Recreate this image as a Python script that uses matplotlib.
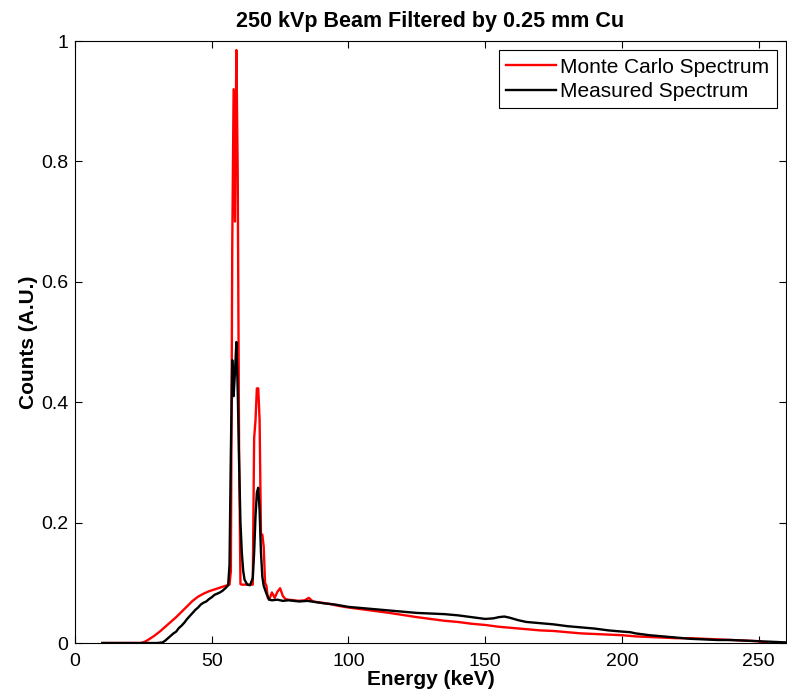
import matplotlib
matplotlib.use('Agg')
import matplotlib.pyplot as plt

plt.rcParams['font.family'] = ['Liberation Sans', 'DejaVu Sans']

# Monte Carlo spectrum (keV, counts A.U.)
mc_energy = [10, 15, 20, 24, 25.5, 27, 29, 31, 33, 35, 37, 39, 41, 43, 45, 47, 49, 51, 53, 55,
             56.5, 57.0, 57.5, 58.0, 58.5, 59.0, 59.5, 60.0, 60.5, 61, 62, 63, 64, 65,
             65.5, 66, 66.5, 67, 67.5, 68, 68.5, 69, 69.5, 70, 70.5, 71, 72, 73, 74, 75, 76, 77, 78,
             80, 82, 84, 85.5, 87, 90, 93, 96, 100, 105, 110, 115, 120, 125, 130, 135, 140, 145,
             150, 155, 160, 165, 170, 175, 180, 185, 190, 195, 200, 205, 210, 215, 220, 225, 230,
             235, 240, 245, 250, 253]
mc_counts = [0, 0, 0, 0, 0.002, 0.006, 0.012, 0.019, 0.027, 0.035, 0.043, 0.052, 0.061, 0.070, 0.077,
             0.082, 0.086, 0.089, 0.092, 0.095,
             0.097, 0.12, 0.66, 0.92, 0.70, 0.985, 0.78, 0.32, 0.098, 0.097, 0.097, 0.097, 0.097, 0.097,
             0.34, 0.37, 0.423, 0.423, 0.37, 0.18, 0.18, 0.16, 0.10, 0.095, 0.075, 0.072, 0.084, 0.075,
             0.085, 0.091, 0.078, 0.073, 0.072,
             0.071, 0.070, 0.071, 0.075, 0.069, 0.067, 0.065, 0.062, 0.059, 0.056, 0.053, 0.050, 0.0465,
             0.043, 0.040, 0.037, 0.035, 0.032,
             0.030, 0.027, 0.025, 0.023, 0.021, 0.020, 0.018, 0.016, 0.015, 0.014, 0.013, 0.011, 0.010,
             0.009, 0.008, 0.008, 0.007,
             0.006, 0.005, 0.004, 0.003, 0.0]

# Measured spectrum
meas_energy = [10, 20, 30, 32, 33, 34, 35, 36, 37, 38, 39, 40, 41, 42, 43, 44, 45, 46, 47, 48, 49, 50,
               51, 52, 53, 54, 55, 56, 56.5, 57.0, 57.5, 58.0, 58.5, 59.0, 59.5, 60.0, 60.5, 61, 61.5,
               62, 63, 64, 65, 65.5, 66, 66.5, 67, 67.5, 68, 68.5, 69, 70, 71, 72, 74, 76, 78, 80, 82,
               85, 88, 91, 95, 100, 105, 110, 115, 120, 125, 130, 135, 140, 145, 150, 153, 155, 157,
               159, 162, 165, 170, 175, 180, 185, 190, 195, 200, 203, 205, 210, 215, 220, 225, 230,
               235, 240, 245, 250, 255, 260]
meas_counts = [0, 0, 0, 0.001, 0.004, 0.008, 0.012, 0.016, 0.019, 0.025, 0.029, 0.034, 0.040, 0.045,
               0.050, 0.055, 0.059, 0.064, 0.067, 0.069, 0.073, 0.076,
               0.080, 0.082, 0.084, 0.087, 0.091, 0.096, 0.13, 0.32, 0.47, 0.41, 0.45, 0.50, 0.42, 0.30,
               0.20, 0.15, 0.12,
               0.105, 0.097, 0.096, 0.108, 0.15, 0.21, 0.25, 0.258, 0.22, 0.15, 0.11, 0.095, 0.082, 0.072,
               0.071, 0.072, 0.070, 0.071, 0.070, 0.069,
               0.070, 0.068, 0.066, 0.064, 0.060, 0.058, 0.056, 0.054, 0.052, 0.050, 0.049, 0.048, 0.046,
               0.043, 0.040, 0.041, 0.043, 0.044,
               0.042, 0.038, 0.035, 0.033, 0.031, 0.028, 0.026, 0.024, 0.021, 0.019, 0.018, 0.016, 0.013,
               0.011, 0.009, 0.007, 0.006,
               0.005, 0.005, 0.004, 0.003, 0.002, 0.001]

x_ticks = [0, 50, 100, 150, 200, 250]
y_ticks = [0, 0.2, 0.4, 0.6, 0.8, 1]
y_tick_labels = ['0', '0.2', '0.4', '0.6', '0.8', '1']

fig = plt.figure(figsize=(7.87, 7.0), dpi=100)
ax = fig.add_axes([0.0953, 0.0814, 0.9035, 0.86])

ax.plot(mc_energy, mc_counts, color='red', lw=1.7, label='Monte Carlo Spectrum')
ax.plot(meas_energy, meas_counts, color='black', lw=1.7, label='Measured Spectrum')

ax.set_xlim(0, 260)
ax.set_ylim(0, 1)
ax.set_xticks(x_ticks)
ax.set_yticks(y_ticks)
ax.set_yticklabels(y_tick_labels)
ax.tick_params(direction='in', top=True, right=True, labelsize=14, length=5)
ax.tick_params(axis='x', pad=7)
ax.tick_params(axis='y', pad=5)

ax.set_xlabel('Energy (keV)', fontsize=15, fontweight='bold', labelpad=0)
ax.set_ylabel('Counts (A.U.)', fontsize=15, fontweight='bold', labelpad=2)
ax.set_title('250 kVp Beam Filtered by 0.25 mm Cu', fontsize=15.5, fontweight='bold', pad=10)

leg = ax.legend(loc='upper right', fontsize=15, fancybox=False, framealpha=1,
                edgecolor='black', borderaxespad=0.45, handlelength=2.4,
                handletextpad=0.2, borderpad=0.35, labelspacing=0.25)
leg.get_frame().set_linewidth(0.8)

fig.savefig('out.png', dpi=100)
